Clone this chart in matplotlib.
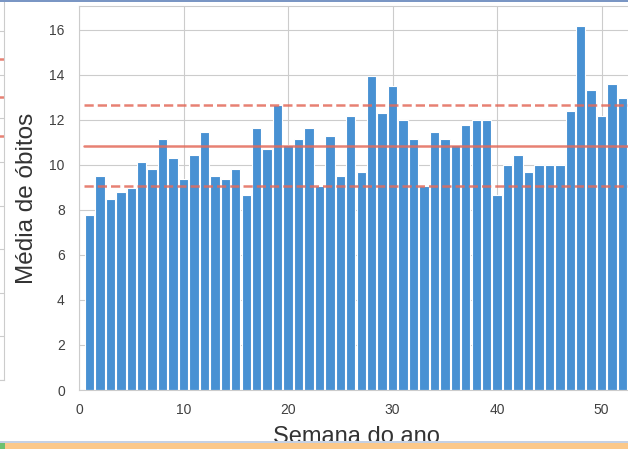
import matplotlib.pyplot as plt
import seaborn as sns
from matplotlib.patches import Rectangle

# media semanal de obitos, semanas 1 a 52
semanas = list(range(1, 53))
media_obitos = [7.78, 9.51, 8.49, 8.81, 8.96, 10.12, 9.81, 11.14, 10.28, 9.35,
                10.44, 11.45, 9.51, 9.35, 9.81, 8.65, 11.62, 10.68, 12.65, 10.86,
                11.14, 11.62, 9.05, 11.30, 9.51, 12.16, 9.66, 13.96, 12.31, 13.50,
                12.01, 11.14, 9.08, 11.45, 11.14, 10.86, 11.78, 12.01, 12.01, 8.65,
                9.99, 10.44, 9.66, 9.99, 9.99, 9.99, 12.40, 16.16, 13.33, 12.16,
                13.57, 12.95]
media = 10.84
desvio = 1.80

# pedaco do grafico anterior que aparece na borda esquerda
media_ant = 12.97
desvio_ant = 1.77

sns.set_style("whitegrid")
plt.rcParams['font.family'] = ['Liberation Sans', 'DejaVu Sans']

vermelho = '#e36b5b'
azul = '#4891d3'

fig = plt.figure(figsize=(6.28, 4.49), dpi=100)

# eixo anterior (so a borda direita aparece)
ax0 = fig.add_axes([-0.5, 69 / 449, 0.5 + 4 / 628, 1.0])
ax0.set_ylim(0, 20.6)
ax0.set_yticks(range(0, 21, 2))
ax0.set_xlim(0, 1)
ax0.set_xticks([])
ax0.tick_params(labelleft=False)
for k in [media_ant - desvio_ant, media_ant, media_ant + desvio_ant]:
    ax0.axhline(k, color=vermelho, lw=1.8, alpha=0.85)

ax = fig.add_axes([79 / 628, 59 / 449, 554 / 628, 384 / 449])
ax.bar(semanas, media_obitos, width=0.9, color=azul, edgecolor='white', linewidth=0.8)

x0 = semanas[0] - 0.5
x1 = semanas[-1] + 0.5
ax.plot([x0, x1], [media, media], color=vermelho, lw=1.8, alpha=0.85)
ax.plot([x0, x1], [media + desvio, media + desvio], color=vermelho, lw=1.8, ls='--', alpha=0.85)
ax.plot([x0, x1], [media - desvio, media - desvio], color=vermelho, lw=1.8, ls='--', alpha=0.85)

ax.set_xlim(0, 53)
ax.set_ylim(0, 17.05)
ax.set_yticks(range(0, 17, 2))
ax.set_xticks(range(0, 51, 10))
ax.tick_params(labelsize=10, colors='#404040')
ax.tick_params(axis='x', pad=5.6)
ax.tick_params(axis='y', pad=6.7)
ax.set_xlabel("Semana do ano", fontsize=17, color='#333333', labelpad=7)
ax.set_ylabel("Média de óbitos", fontsize=17.5, color='#333333', labelpad=8.5)

# bordas da captura de tela
fig.add_artist(Rectangle((0, 1 - 2 / 449), 1, 2 / 449, transform=fig.transFigure,
                         color='#7a96c4', lw=0))
fig.add_artist(Rectangle((0, 0), 1, 6 / 449, transform=fig.transFigure,
                         color='#fbc88a', lw=0))
fig.add_artist(Rectangle((0, 0), 5 / 628, 6 / 449, transform=fig.transFigure,
                         color='#6cc070', lw=0))
fig.add_artist(Rectangle((0, 6 / 449), 1, 2 / 449, transform=fig.transFigure,
                         color='#c4d0e4', lw=0))

plt.savefig("out.png", dpi=100)
